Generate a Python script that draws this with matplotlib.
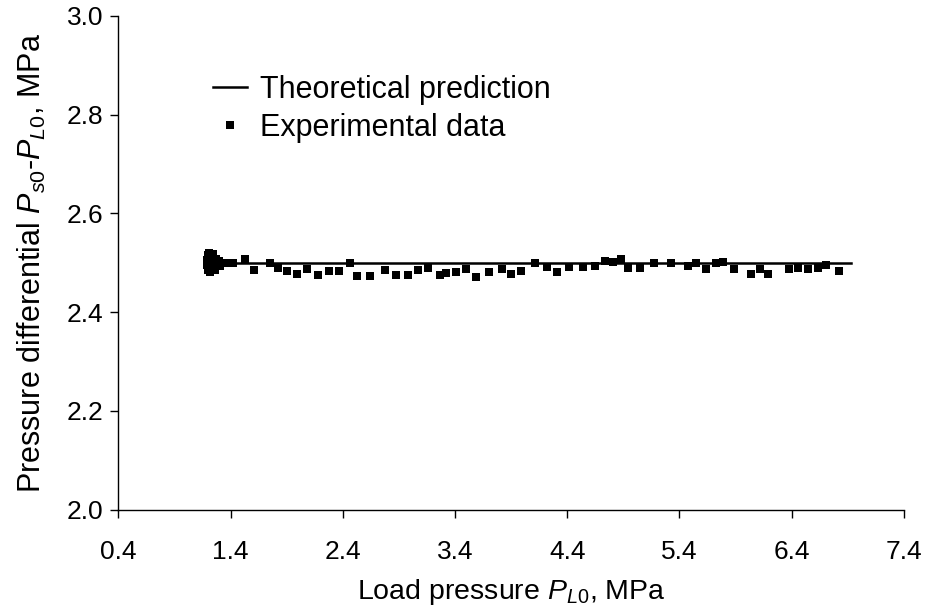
import matplotlib
matplotlib.use('Agg')
import matplotlib.pyplot as plt

plt.rcParams['font.family'] = ['Liberation Sans', 'DejaVu Sans']
plt.rcParams['mathtext.fontset'] = 'custom'
plt.rcParams['mathtext.rm'] = 'Liberation Sans'
plt.rcParams['mathtext.it'] = 'Liberation Sans:italic'

# theoretical prediction (flat line)
theory_x = [1.25, 6.93]
theory_y = [2.50, 2.50]

# experimental data
exp_x = [1.19, 1.19, 1.20, 1.20, 1.21, 1.21, 1.22, 1.22, 1.23, 1.24, 1.25, 1.26,
         1.27, 1.28, 1.30, 1.31, 1.33, 1.36, 1.42, 1.53, 1.61, 1.75, 1.82, 1.90,
         1.99, 2.08, 2.18, 2.28, 2.37, 2.46, 2.53, 2.64, 2.78, 2.87, 2.98, 3.07,
         3.16, 3.27, 3.32, 3.41, 3.50, 3.59, 3.70, 3.82, 3.90, 3.99, 4.11, 4.22,
         4.31, 4.42, 4.54, 4.65, 4.74, 4.81, 4.88, 4.94, 5.05, 5.17, 5.33, 5.48,
         5.55, 5.64, 5.73, 5.79, 5.89, 6.04, 6.12, 6.19, 6.38, 6.46, 6.55, 6.64,
         6.71, 6.82]
exp_y = [2.505, 2.495, 2.515, 2.485, 2.520, 2.500, 2.482, 2.510, 2.490, 2.518,
         2.500, 2.486, 2.508, 2.496, 2.504, 2.494, 2.500, 2.499, 2.499, 2.507,
         2.486, 2.499, 2.489, 2.484, 2.478, 2.487, 2.476, 2.483, 2.484, 2.499,
         2.474, 2.474, 2.485, 2.476, 2.476, 2.485, 2.489, 2.476, 2.480, 2.482,
         2.487, 2.472, 2.482, 2.487, 2.478, 2.484, 2.499, 2.491, 2.482, 2.491,
         2.492, 2.493, 2.504, 2.502, 2.507, 2.489, 2.489, 2.499, 2.499, 2.493,
         2.499, 2.487, 2.499, 2.502, 2.487, 2.477, 2.487, 2.478, 2.487, 2.489,
         2.487, 2.489, 2.495, 2.484]

x_ticks = [0.4, 1.4, 2.4, 3.4, 4.4, 5.4, 6.4, 7.4]
y_ticks = [2.0, 2.2, 2.4, 2.6, 2.8, 3.0]

fig = plt.figure(figsize=(9.25, 6.09), dpi=100)
ax = fig.add_axes([0.128, 0.163, 0.849, 0.811])

ax.plot(theory_x, theory_y, color='black', lw=1.8, label='Theoretical prediction')
ax.plot(exp_x, exp_y, 's', color='black', ms=6, mec='black', mew=0,
        label='Experimental data')

ax.set_xlim(0.4, 7.4)
ax.set_ylim(2.0, 3.0)
ax.set_xticks(x_ticks)
ax.set_xticklabels([f'{v:.1f}' for v in x_ticks])
ax.set_yticks(y_ticks)
ax.set_yticklabels([f'{v:.1f}' for v in y_ticks])

for side in ['top', 'right']:
    ax.spines[side].set_visible(False)
for side in ['left', 'bottom']:
    ax.spines[side].set_linewidth(1.0)
    ax.spines[side].set_color('black')

ax.tick_params(axis='x', direction='out', length=6, width=1, labelsize=19, pad=16)
ax.tick_params(axis='y', direction='out', length=6, width=1, labelsize=19, pad=5)

ax.set_xlabel(r'Load pressure $P_{\mathit{L0}}$, MPa', fontsize=20.5, labelpad=9)
ax.set_ylabel(r'Pressure differential $P_{\mathit{s0}}$-$P_{\mathit{L0}}$, MPa',
              fontsize=22, labelpad=13)

leg = ax.legend(loc='upper left', bbox_to_anchor=(0.105, 0.905), frameon=False,
                fontsize=22, handlelength=1.1, handletextpad=0.45,
                labelspacing=0.25, borderaxespad=0)

fig.savefig('out.png', dpi=100, facecolor='white')
